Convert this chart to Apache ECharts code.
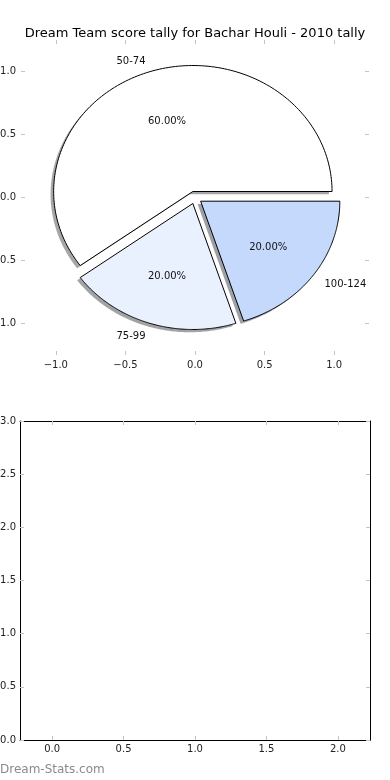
<!DOCTYPE html>
<html>
<head>
<meta charset="utf-8">
<script src="https://cdn.jsdelivr.net/npm/echarts@6/dist/echarts.min.js"></script>
<style>
html,body{margin:0;padding:0;background:#fff;}
#chart{width:390px;height:780px;}
</style>
</head>
<body>
<div id="chart"></div>
<script>
const titleText = 'Dream Team score tally for Bachar Houli - 2010 tally';
const categories = ['50-74', '75-99', '100-124'];
const counts = [3, 1, 1];
const sliceColors = ['#ffffff', '#eaf1fe', '#c5d9fd'];
const pieTicks = [-1.0, -0.5, 0.0, 0.5, 1.0];
const emptyXTicks = [0.0, 0.5, 1.0, 1.5, 2.0];
const emptyYTicks = [0.0, 0.5, 1.0, 1.5, 2.0, 2.5, 3.0];
const watermark = 'Dream-Stats.com';

const EXPLODE = 0.05, RADIUS = 1, LABEL_DIST = 1.1, PCT_DIST = 0.6, SHADOW = 0.022;
const FONT = 'DejaVu Sans';
const TICK_COLOR = '#c4c4c4';

function fmt(v) {
  const s = Math.abs(v).toFixed(1);
  return v < 0 ? '\u2212' + s : s;
}

function geom(i) {
  const total = counts.reduce((a, b) => a + b, 0);
  let start = 0;
  for (let k = 0; k < i; k++) start += counts[k] / total;
  const frac = counts[i] / total;
  const t1 = start * 2 * Math.PI, t2 = (start + frac) * 2 * Math.PI, mid = (t1 + t2) / 2;
  return { t1, t2, mid, frac, cx: EXPLODE * Math.cos(mid), cy: EXPLODE * Math.sin(mid) };
}

function wedgePoints(api, g, dx, dy) {
  const pts = [api.coord([g.cx + dx, g.cy + dy])];
  const n = 160;
  for (let j = 0; j <= n; j++) {
    const t = g.t1 + (g.t2 - g.t1) * j / n;
    pts.push(api.coord([g.cx + dx + RADIUS * Math.cos(t), g.cy + dy + RADIUS * Math.sin(t)]));
  }
  return pts;
}

function shadowColor(hex) {
  const r = parseInt(hex.slice(1, 3), 16), g = parseInt(hex.slice(3, 5), 16), b = parseInt(hex.slice(5, 7), 16);
  return 'rgba(' + Math.round(r * 0.3) + ',' + Math.round(g * 0.3) + ',' + Math.round(b * 0.3) + ',0.5)';
}

const sliceData = categories.map((c, i) => [i, counts[i]]);

function tick(values) {
  const t = { show: true, inside: true, length: 4, lineStyle: { color: TICK_COLOR, width: 1 } };
  if (values) t.customValues = values;
  return t;
}
function label(values, margin) {
  const l = { show: true, formatter: fmt, margin: margin, fontFamily: FONT, fontSize: 10, color: '#222' };
  if (values) l.customValues = values;
  return l;
}
function axis(extra) {
  return Object.assign({
    type: 'value',
    splitLine: { show: false },
    axisLabel: { show: false }
  }, extra);
}
const noLine = { show: false, onZero: false };
const boxLine = { show: true, onZero: false, lineStyle: { color: '#000', width: 1 } };

const chart = echarts.init(document.getElementById('chart'), null, { renderer: 'canvas' });
chart.setOption({
  animation: false,
  backgroundColor: '#ffffff',
  title: {
    text: titleText, left: 'center', top: 22,
    textStyle: { fontFamily: FONT, fontSize: 13, fontWeight: 'normal', color: '#000' }
  },
  grid: [
    { left: 21, top: 40, width: 348, height: 315, outerBoundsMode: 'none', containLabel: false },
    { left: 20, top: 421, width: 350, height: 319, outerBoundsMode: 'none', containLabel: false }
  ],
  xAxis: [
    axis({ gridIndex: 0, position: 'bottom', min: -1.25, max: 1.25, axisLine: noLine,
      axisTick: tick(pieTicks), axisLabel: label(pieTicks, 5) }),
    axis({ gridIndex: 0, position: 'top', min: -1.25, max: 1.25, axisLine: noLine,
      axisTick: tick(pieTicks) }),
    axis({ gridIndex: 1, position: 'bottom', min: -0.225, max: 2.225, axisLine: boxLine,
      axisTick: tick(emptyXTicks), axisLabel: label(emptyXTicks, 4) }),
    axis({ gridIndex: 1, position: 'top', min: -0.225, max: 2.225, axisLine: boxLine,
      axisTick: tick(emptyXTicks) })
  ],
  yAxis: [
    axis({ gridIndex: 0, position: 'left', min: -1.25, max: 1.25, axisLine: noLine,
      axisTick: tick(pieTicks), axisLabel: label(pieTicks, 5) }),
    axis({ gridIndex: 0, position: 'right', min: -1.25, max: 1.25, axisLine: noLine,
      axisTick: tick(pieTicks) }),
    axis({ gridIndex: 1, position: 'left', min: 0, max: 3, axisLine: boxLine,
      axisTick: tick(emptyYTicks), axisLabel: label(emptyYTicks, 4) }),
    axis({ gridIndex: 1, position: 'right', min: 0, max: 3, axisLine: boxLine,
      axisTick: tick(emptyYTicks) })
  ],
  graphic: [
    { type: 'text', left: 0, top: 764, style: { text: watermark, fontFamily: FONT, fontSize: 12, fill: '#8a8a8a' } }
  ],
  series: [
    {
      type: 'custom', name: 'shadow', xAxisIndex: 0, yAxisIndex: 0, z: 1, silent: true,
      data: sliceData,
      encode: { x: -1, y: -1 },
      renderItem: function (params, api) {
        const i = api.value(0);
        const g = geom(i);
        return { type: 'polygon', shape: { points: wedgePoints(api, g, -SHADOW, -SHADOW) },
          style: { fill: shadowColor(sliceColors[i]), stroke: null } };
      }
    },
    {
      type: 'custom', name: 'wedges', xAxisIndex: 0, yAxisIndex: 0, z: 2, silent: true,
      data: sliceData,
      encode: { x: -1, y: -1 },
      renderItem: function (params, api) {
        const i = api.value(0);
        const g = geom(i);
        const lx = g.cx + LABEL_DIST * RADIUS * Math.cos(g.mid);
        const lp = api.coord([lx, g.cy + LABEL_DIST * RADIUS * Math.sin(g.mid)]);
        const pp = api.coord([g.cx + PCT_DIST * RADIUS * Math.cos(g.mid), g.cy + PCT_DIST * RADIUS * Math.sin(g.mid)]);
        return {
          type: 'group',
          children: [
            { type: 'polygon', shape: { points: wedgePoints(api, g, 0, 0) },
              style: { fill: sliceColors[i], stroke: '#000', lineWidth: 1, lineJoin: 'miter' } },
            { type: 'text', style: { text: categories[i], x: lp[0], y: lp[1] + 1.5,
                align: lx < 0 ? 'right' : 'left', verticalAlign: 'middle',
                fontFamily: FONT, fontSize: 10, fill: '#111' } },
            { type: 'text', style: { text: (g.frac * 100).toFixed(2) + '%', x: pp[0], y: pp[1] + 1.5,
                align: 'center', verticalAlign: 'middle',
                fontFamily: FONT, fontSize: 10, fill: '#111' } }
          ]
        };
      }
    },
    { type: 'line', xAxisIndex: 2, yAxisIndex: 2, data: [], silent: true }
  ]
});
</script>
</body>
</html>
